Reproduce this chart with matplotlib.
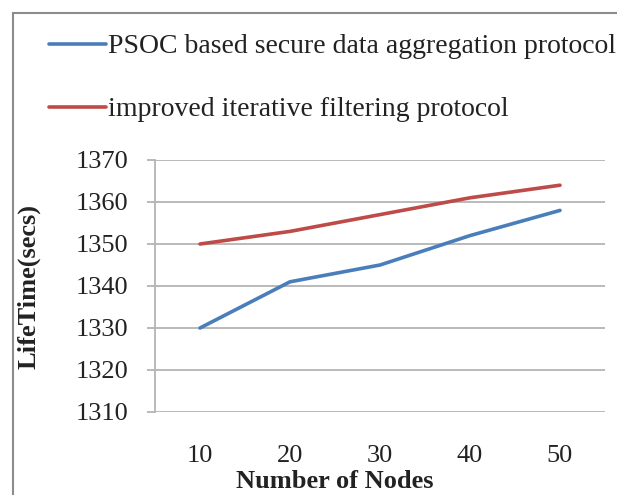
import matplotlib
matplotlib.use("Agg")
import matplotlib.pyplot as plt
from matplotlib.patches import Rectangle

nodes = ["10", "20", "30", "40", "50"]
psoc = [1330, 1341, 1345, 1352, 1358]
iif = [1350, 1353, 1357, 1361, 1364]
yticks = [1310, 1320, 1330, 1340, 1350, 1360, 1370]

W, H = 617, 495
plt.rcParams['font.family'] = ['Liberation Serif', 'DejaVu Serif']
fig = plt.figure(figsize=(W / 100, H / 100), dpi=100)
fig.patch.set_facecolor('white')

ax = fig.add_axes([155 / W, 1 - 412 / H, 450 / W, 252 / H])
x = list(range(len(nodes)))
l1, = ax.plot(x, psoc, color='#4A7EBB', lw=2.6, solid_capstyle='round',
              label='PSOC based secure data aggregation protocol')
l2, = ax.plot(x, iif, color='#BE4B48', lw=2.6, solid_capstyle='round',
              label='improved iterative filtering protocol')

ax.set_xlim(-0.5, len(nodes) - 0.5)
ax.set_ylim(1310, 1370)
ax.set_yticks(yticks)
ax.set_xticks(x)
ax.set_xticklabels(nodes)
ax.yaxis.grid(True, color='#b4b4b4', lw=1.3)
ax.set_axisbelow(True)
for s in ['top', 'right', 'bottom']:
    ax.spines[s].set_visible(False)
ax.spines['left'].set_color('#b4b4b4')
ax.spines['left'].set_linewidth(1.3)
ax.tick_params(axis='y', length=6, width=1.3, color='#b4b4b4', labelsize=19, pad=13, labelcolor='#222222')
ax.tick_params(axis='x', length=0, labelsize=19, pad=24, labelcolor='#222222')

ax.set_ylabel('LifeTime(secs)', fontsize=19, fontweight='bold', color='#222222')
ax.yaxis.set_label_coords((41 - 155) / 450, 0.5)
ax.set_xlabel('Number of Nodes', fontsize=19, fontweight='bold', color='#222222')
ax.xaxis.label.set_va('baseline')
ax.xaxis.set_label_coords((335 - 155) / 450, (412 - 488) / 252)

leg = fig.legend(handles=[l1, l2], loc='upper left',
                 bbox_to_anchor=(49 / W, 1 - 34 / H), frameon=False,
                 fontsize=20, handlelength=2.05, handletextpad=0.08,
                 labelspacing=1.35, borderaxespad=0, borderpad=0)
for t in leg.get_texts():
    t.set_color('#222222')
for h in leg.legend_handles:
    h.set_linewidth(2.6)

fig.patches.append(Rectangle((13 / W, -0.1), 1.2, 1 - 13 / H + 0.1,
                             transform=fig.transFigure, fill=False,
                             edgecolor='#8c8c8c', lw=1.5))

fig.savefig('out.png', dpi=100)
